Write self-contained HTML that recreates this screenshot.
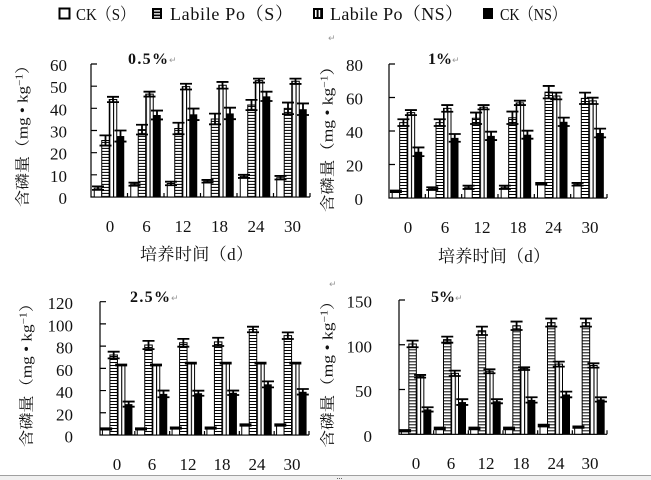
<!DOCTYPE html>
<html><head><meta charset="utf-8"><style>
html,body{margin:0;padding:0;width:651px;height:480px;overflow:hidden;background:#fff}
svg{display:block}
.sc *{vector-effect:non-scaling-stroke}
.w{fill:#fff;stroke:#000;stroke-width:1}
.s{stroke:#000;stroke-width:1}
.v{fill:url(#vs);stroke:#000;stroke-width:1}
.k{fill:#000}
.e{fill:none;stroke:#000;stroke-width:1.8}
.ax{fill:none;stroke:#000;stroke-width:1.2}
text{font-family:"Liberation Serif","Noto Serif CJK SC","Noto Sans CJK SC",serif;fill:#111}
.n{font-size:17px}
.r{font-family:"DejaVu Sans",sans-serif;font-size:9px;fill:#999}
</style></head><body>
<svg width="651" height="480" viewBox="0 0 651 480" xmlns="http://www.w3.org/2000/svg">
<defs>
<pattern id="vs" patternUnits="userSpaceOnUse" width="3.75" height="200"><rect width="3.75" height="200" fill="#fff"/><rect width="1.1" height="200" fill="#000"/></pattern>
<pattern id="h1" patternUnits="userSpaceOnUse" width="20" height="1.3534"><rect width="20" height="1.3534" fill="#fff"/><rect width="20" height="0.4511" fill="#000"/></pattern>
<pattern id="h2" patternUnits="userSpaceOnUse" width="20" height="1.791"><rect width="20" height="1.791" fill="#fff"/><rect width="20" height="0.597" fill="#000"/></pattern>
<pattern id="h3" patternUnits="userSpaceOnUse" width="20" height="2.7"><rect width="20" height="2.7" fill="#fff"/><rect width="20" height="0.9" fill="#000"/></pattern>
<pattern id="h4" patternUnits="userSpaceOnUse" width="20" height="3.351"><rect width="20" height="3.351" fill="#fff"/><rect width="20" height="1.117" fill="#000"/></pattern>
</defs>

<!-- Legend -->
<rect x="59.5" y="8.5" width="10" height="10" fill="#fff" stroke="#000" stroke-width="2"/>
<text x="76" y="20" font-size="17" textLength="59" lengthAdjust="spacingAndGlyphs">CK（S）</text>
<rect x="152" y="8" width="10" height="11" fill="#000"/>
<rect x="154" y="10.2" width="6" height="1.3" fill="#fff"/><rect x="154" y="13.2" width="6" height="1.3" fill="#fff"/><rect x="154" y="16.2" width="6" height="1.3" fill="#fff"/>
<text x="170" y="20" font-size="18" textLength="123">Labile Po（S）</text>
<rect x="313" y="8" width="10" height="11" fill="#000"/>
<rect x="315" y="10" width="1.6" height="7" fill="#fff"/><rect x="318.6" y="10" width="1.6" height="7" fill="#fff"/>
<text x="330" y="20" font-size="18" textLength="133">Labile Po（NS）</text>
<rect x="483" y="8" width="10" height="11" fill="#000"/>
<text x="500" y="20" font-size="17" textLength="66" lengthAdjust="spacingAndGlyphs">CK（NS）</text>
<text class="r" x="328" y="41">↵</text>

<!-- ===== Panel 1 (0.5%) ===== -->
<text x="128" y="64" font-size="16" font-weight="bold" textLength="40">0.5%</text><text class="r" x="169" y="63">↵</text>
<g class="n" text-anchor="end">
<text x="67" y="204">0</text><text x="67" y="181.8">10</text><text x="67" y="159.7">20</text><text x="67" y="137.5">30</text><text x="67" y="115.3">40</text><text x="67" y="93.2">50</text><text x="67" y="71">60</text>
</g>
<g class="n" text-anchor="middle">
<text x="110" y="232">0</text><text x="146.5" y="232">6</text><text x="183" y="232">12</text><text x="219.5" y="232">18</text><text x="256" y="232">24</text><text x="292.5" y="232">30</text>
</g>
<text x="140" y="260" font-size="17" textLength="113">培养时间（d）</text>
<text transform="translate(22,132) rotate(-90)" x="0" y="5.5" text-anchor="middle" font-size="15" textLength="150" lengthAdjust="spacingAndGlyphs">含磷量（mg • kg<tspan font-size="10" dy="-5">−1</tspan><tspan dy="5">）</tspan></text>
<g class="sc" transform="translate(91,197) scale(1,-2.2167)">
<path class="ax" d="M0 60V0H219M0 10h6M0 20h6M0 30h6M0 40h6M0 50h6M0 60h6M36.5 0v1.8M73 0v1.8M109.5 0v1.8M146 0v1.8M182.5 0v1.8M219 0v1.8"/>
<g transform="translate(18.25,0)"><rect class="w" x="-15" width="7.5" height="4"/><rect class="s" fill="url(#h1)" x="-7.5" width="7.5" height="25.5"/><rect class="v" width="7.5" height="44"/><rect class="k" x="7.5" width="7.5" height="27.5"/><path class="e" d="M-17.25 4.8h12m-6 0v-1.6m-6 0h12M-9.75 27.8h12m-6 0v-4.6m-6 0h12M-2.25 45.2h12m-6 0v-2.4m-6 0h12M5.25 30h12m-6 0v-5m-6 0h12"/></g>
<g transform="translate(54.75,0)"><rect class="w" x="-15" width="7.5" height="5.8"/><rect class="s" fill="url(#h1)" x="-7.5" width="7.5" height="30.4"/><rect class="v" width="7.5" height="46.4"/><rect class="k" x="7.5" width="7.5" height="37"/><path class="e" d="M-17.25 6.5h12m-6 0v-1.4m-6 0h12M-9.75 32.6h12m-6 0v-4.4m-6 0h12M-2.25 47.5h12m-6 0v-2.2m-6 0h12M5.25 39h12m-6 0v-4m-6 0h12"/></g>
<g transform="translate(91.25,0)"><rect class="w" x="-15" width="7.5" height="6.1"/><rect class="s" fill="url(#h1)" x="-7.5" width="7.5" height="30.9"/><rect class="v" width="7.5" height="49.8"/><rect class="k" x="7.5" width="7.5" height="37.3"/><path class="e" d="M-17.25 6.9h12m-6 0v-1.6m-6 0h12M-9.75 33.5h12m-6 0v-5.2m-6 0h12M-2.25 51.1h12m-6 0v-2.6m-6 0h12M5.25 39.9h12m-6 0v-5.2m-6 0h12"/></g>
<g transform="translate(127.75,0)"><rect class="w" x="-15" width="7.5" height="7.1"/><rect class="s" fill="url(#h1)" x="-7.5" width="7.5" height="35.2"/><rect class="v" width="7.5" height="50.4"/><rect class="k" x="7.5" width="7.5" height="37.7"/><path class="e" d="M-17.25 7.7h12m-6 0v-1.2m-6 0h12M-9.75 37.6h12m-6 0v-4.8m-6 0h12M-2.25 51.9h12m-6 0v-3m-6 0h12M5.25 40.3h12m-6 0v-5.2m-6 0h12"/></g>
<g transform="translate(164.25,0)"><rect class="w" x="-15" width="7.5" height="9.3"/><rect class="s" fill="url(#h1)" x="-7.5" width="7.5" height="41.5"/><rect class="v" width="7.5" height="52.5"/><rect class="k" x="7.5" width="7.5" height="45.4"/><path class="e" d="M-17.25 10h12m-6 0v-1.4m-6 0h12M-9.75 43.8h12m-6 0v-4.6m-6 0h12M-2.25 53.4h12m-6 0v-1.8m-6 0h12M5.25 47.5h12m-6 0v-4.2m-6 0h12"/></g>
<g transform="translate(200.75,0)"><rect class="w" x="-15" width="7.5" height="8.7"/><rect class="s" fill="url(#h1)" x="-7.5" width="7.5" height="40"/><rect class="v" width="7.5" height="52.2"/><rect class="k" x="7.5" width="7.5" height="39.6"/><path class="e" d="M-17.25 9.5h12m-6 0v-1.6m-6 0h12M-9.75 42.6h12m-6 0v-5.2m-6 0h12M-2.25 53.4h12m-6 0v-2.4m-6 0h12M5.25 42.2h12m-6 0v-5.2m-6 0h12"/></g>
</g>

<!-- ===== Panel 2 (1%) ===== -->
<text x="428" y="64" font-size="16" font-weight="bold" textLength="24">1%</text><text class="r" x="452" y="63">↵</text>
<g class="n" text-anchor="end">
<text x="363" y="205">0</text><text x="363" y="171.5">20</text><text x="363" y="138">40</text><text x="363" y="104.5">60</text><text x="363" y="71">80</text>
</g>
<g class="n" text-anchor="middle">
<text x="408" y="233">0</text><text x="445" y="233">6</text><text x="482" y="233">12</text><text x="518" y="233">18</text><text x="553.5" y="233">24</text><text x="590" y="233">30</text>
</g>
<text x="438" y="262" font-size="17" textLength="112">培养时间（d）</text>
<text transform="translate(327,135) rotate(-90)" x="0" y="5.5" text-anchor="middle" font-size="15" textLength="154" lengthAdjust="spacingAndGlyphs">含磷量（mg • kg<tspan font-size="10" dy="-5">−1</tspan><tspan dy="5">）</tspan></text>
<g class="sc" transform="translate(389,198) scale(1,-1.675)">
<path class="ax" d="M0 80V0H218M0 20h6M0 40h6M0 60h6M0 80h6M36.33 0v2.4M72.67 0v2.4M109 0v2.4M145.33 0v2.4M181.67 0v2.4M218 0v2.4"/>
<g transform="translate(18.17,0)"><rect class="w" x="-15" width="7.5" height="4"/><rect class="s" fill="url(#h2)" x="-7.5" width="7.5" height="45"/><rect class="v" width="7.5" height="51"/><rect class="k" x="7.5" width="7.5" height="27.6"/><path class="e" d="M-17.25 4.5h12m-6 0v-1m-6 0h12M-9.75 47h12m-6 0v-4m-6 0h12M-2.25 52.5h12m-6 0v-3m-6 0h12M5.25 30.2h12m-6 0v-5.2m-6 0h12"/></g>
<g transform="translate(54.5,0)"><rect class="w" x="-15" width="7.5" height="5.6"/><rect class="s" fill="url(#h2)" x="-7.5" width="7.5" height="45"/><rect class="v" width="7.5" height="53.5"/><rect class="k" x="7.5" width="7.5" height="35.9"/><path class="e" d="M-17.25 6.4h12m-6 0v-1.6m-6 0h12M-9.75 47h12m-6 0v-4m-6 0h12M-2.25 55.5h12m-6 0v-4m-6 0h12M5.25 38.2h12m-6 0v-4.6m-6 0h12"/></g>
<g transform="translate(90.83,0)"><rect class="w" x="-15" width="7.5" height="6.4"/><rect class="s" fill="url(#h2)" x="-7.5" width="7.5" height="47.6"/><rect class="v" width="7.5" height="54.2"/><rect class="k" x="7.5" width="7.5" height="37.1"/><path class="e" d="M-17.25 7.4h12m-6 0v-2m-6 0h12M-9.75 51h12m-6 0v-6.8m-6 0h12M-2.25 55.5h12m-6 0v-2.6m-6 0h12M5.25 39.6h12m-6 0v-5m-6 0h12"/></g>
<g transform="translate(127.17,0)"><rect class="w" x="-15" width="7.5" height="6.4"/><rect class="s" fill="url(#h2)" x="-7.5" width="7.5" height="47.9"/><rect class="v" width="7.5" height="56.8"/><rect class="k" x="7.5" width="7.5" height="37.8"/><path class="e" d="M-17.25 7.4h12m-6 0v-2m-6 0h12M-9.75 51.6h12m-6 0v-7.4m-6 0h12M-2.25 58.1h12m-6 0v-2.6m-6 0h12M5.25 40.2h12m-6 0v-4.8m-6 0h12"/></g>
<g transform="translate(163.5,0)"><rect class="w" x="-15" width="7.5" height="8.5"/><rect class="s" fill="url(#h2)" x="-7.5" width="7.5" height="63.2"/><rect class="v" width="7.5" height="60.9"/><rect class="k" x="7.5" width="7.5" height="45.5"/><path class="e" d="M-17.25 9h12m-6 0v-1m-6 0h12M-9.75 66.9h12m-6 0v-7.4m-6 0h12M-2.25 62.9h12m-6 0v-4m-6 0h12M5.25 48h12m-6 0v-5m-6 0h12"/></g>
<g transform="translate(199.83,0)"><rect class="w" x="-15" width="7.5" height="8.2"/><rect class="s" fill="url(#h2)" x="-7.5" width="7.5" height="59.5"/><rect class="v" width="7.5" height="58"/><rect class="k" x="7.5" width="7.5" height="38.8"/><path class="e" d="M-17.25 9h12m-6 0v-1.6m-6 0h12M-9.75 62.9h12m-6 0v-6.8m-6 0h12M-2.25 59.9h12m-6 0v-3.8m-6 0h12M5.25 41.4h12m-6 0v-5.2m-6 0h12"/></g>
</g>

<!-- ===== Panel 3 (2.5%) ===== -->
<text x="130" y="302" font-size="16" font-weight="bold" textLength="40">2.5%</text><text class="r" x="171" y="301">↵</text>
<g class="n" text-anchor="end">
<text x="73" y="442.5">0</text><text x="73" y="420.3">20</text><text x="73" y="398.1">40</text><text x="73" y="375.8">60</text><text x="73" y="353.6">80</text><text x="73" y="331.4">100</text><text x="73" y="309.2">120</text>
</g>
<g class="n" text-anchor="middle">
<text x="117" y="470">0</text><text x="152" y="470">6</text><text x="188" y="470">12</text><text x="222" y="470">18</text><text x="257" y="470">24</text><text x="292" y="470">30</text>
</g>
<text transform="translate(26,371) rotate(-90)" x="0" y="5.5" text-anchor="middle" font-size="15" textLength="152" lengthAdjust="spacingAndGlyphs">含磷量（mg • kg<tspan font-size="10" dy="-5">−1</tspan><tspan dy="5">）</tspan></text>
<g class="sc" transform="translate(100,435) scale(1,-1.111)">
<path class="ax" d="M0 120V0H209M0 20h6M0 40h6M0 60h6M0 80h6M0 100h6M0 120h6M34.83 0v3.6M69.67 0v3.6M104.5 0v3.6M139.33 0v3.6M174.17 0v3.6M209 0v3.6"/>
<g transform="translate(17.42,0)"><rect class="w" x="-15" width="7.5" height="5.5"/><rect class="s" fill="url(#h3)" x="-7.5" width="7.5" height="72"/><rect class="v" width="7.5" height="63"/><rect class="k" x="7.5" width="7.5" height="27.8"/><path class="e" d="M-17.25 6.1h12m-6 0v-1.2m-6 0h12M-9.75 75h12m-6 0v-6m-6 0h12M-2.25 63.4h12m-6 0v-0.8m-6 0h12M5.25 30.1h12m-6 0v-4.6m-6 0h12"/></g>
<g transform="translate(52.25,0)"><rect class="w" x="-15" width="7.5" height="5.5"/><rect class="s" fill="url(#h3)" x="-7.5" width="7.5" height="81"/><rect class="v" width="7.5" height="63"/><rect class="k" x="7.5" width="7.5" height="37"/><path class="e" d="M-17.25 6.1h12m-6 0v-1.2m-6 0h12M-9.75 84.7h12m-6 0v-7.4m-6 0h12M-2.25 63.4h12m-6 0v-0.8m-6 0h12M5.25 40h12m-6 0v-6m-6 0h12"/></g>
<g transform="translate(87.08,0)"><rect class="w" x="-15" width="7.5" height="6.2"/><rect class="s" fill="url(#h3)" x="-7.5" width="7.5" height="83"/><rect class="v" width="7.5" height="64.7"/><rect class="k" x="7.5" width="7.5" height="37.6"/><path class="e" d="M-17.25 6.8h12m-6 0v-1.2m-6 0h12M-9.75 86.5h12m-6 0v-7m-6 0h12M-2.25 65.1h12m-6 0v-0.8m-6 0h12M5.25 39.9h12m-6 0v-4.6m-6 0h12"/></g>
<g transform="translate(121.92,0)"><rect class="w" x="-15" width="7.5" height="6.2"/><rect class="s" fill="url(#h3)" x="-7.5" width="7.5" height="83.8"/><rect class="v" width="7.5" height="64.7"/><rect class="k" x="7.5" width="7.5" height="38"/><path class="e" d="M-17.25 6.8h12m-6 0v-1.2m-6 0h12M-9.75 87.5h12m-6 0v-7.4m-6 0h12M-2.25 65.1h12m-6 0v-0.8m-6 0h12M5.25 40h12m-6 0v-4m-6 0h12"/></g>
<g transform="translate(156.75,0)"><rect class="w" x="-15" width="7.5" height="9"/><rect class="s" fill="url(#h3)" x="-7.5" width="7.5" height="95"/><rect class="v" width="7.5" height="64.7"/><rect class="k" x="7.5" width="7.5" height="45.6"/><path class="e" d="M-17.25 9.6h12m-6 0v-1.2m-6 0h12M-9.75 97.5h12m-6 0v-5m-6 0h12M-2.25 65.1h12m-6 0v-0.8m-6 0h12M5.25 48.3h12m-6 0v-5.4m-6 0h12"/></g>
<g transform="translate(191.58,0)"><rect class="w" x="-15" width="7.5" height="9"/><rect class="s" fill="url(#h3)" x="-7.5" width="7.5" height="89.4"/><rect class="v" width="7.5" height="64.7"/><rect class="k" x="7.5" width="7.5" height="38.9"/><path class="e" d="M-17.25 9.6h12m-6 0v-1.2m-6 0h12M-9.75 92.4h12m-6 0v-6m-6 0h12M-2.25 65.1h12m-6 0v-0.8m-6 0h12M5.25 41.4h12m-6 0v-5m-6 0h12"/></g>
</g>

<!-- ===== Panel 4 (5%) ===== -->
<text x="431" y="302" font-size="16" font-weight="bold" textLength="24">5%</text><text class="r" x="455" y="301">↵</text>
<text class="r" x="329" y="287">↵</text>
<g class="n" text-anchor="end">
<text x="372" y="441.8">0</text><text x="372" y="397">50</text><text x="372" y="352.3">100</text><text x="372" y="307.5">150</text>
</g>
<g class="n" text-anchor="middle">
<text x="416" y="469">0</text><text x="451" y="469">6</text><text x="486" y="469">12</text><text x="521" y="469">18</text><text x="556" y="469">24</text><text x="590" y="469">30</text>
</g>
<text transform="translate(327,370) rotate(-90)" x="0" y="5.5" text-anchor="middle" font-size="15" textLength="155" lengthAdjust="spacingAndGlyphs">含磷量（mg • kg<tspan font-size="10" dy="-5">−1</tspan><tspan dy="5">）</tspan></text>
<g class="sc" transform="translate(399,434.3) scale(1,-0.8953)">
<path class="ax" d="M0 150V0H208M0 50h6M0 100h6M0 150h6M34.67 0v4.5M69.33 0v4.5M104 0v4.5M138.67 0v4.5M173.33 0v4.5M208 0v4.5"/>
<g transform="translate(17.33,0)"><rect class="w" x="-15" width="7.5" height="4"/><rect class="s" fill="url(#h4)" x="-7.5" width="7.5" height="100.9"/><rect class="v" width="7.5" height="64.8"/><rect class="k" x="7.5" width="7.5" height="27.8"/><path class="e" d="M-17.25 4.8h12m-6 0v-1.6m-6 0h12M-9.75 104.6h12m-6 0v-7.4m-6 0h12M-2.25 66.3h12m-6 0v-3m-6 0h12M5.25 30.2h12m-6 0v-4.8m-6 0h12"/></g>
<g transform="translate(52,0)"><rect class="w" x="-15" width="7.5" height="6.5"/><rect class="s" fill="url(#h4)" x="-7.5" width="7.5" height="105.7"/><rect class="v" width="7.5" height="68.1"/><rect class="k" x="7.5" width="7.5" height="36"/><path class="e" d="M-17.25 7.5h12m-6 0v-2m-6 0h12M-9.75 109.1h12m-6 0v-6.8m-6 0h12M-2.25 71.1h12m-6 0v-6m-6 0h12M5.25 39.2h12m-6 0v-6.4m-6 0h12"/></g>
<g transform="translate(86.67,0)"><rect class="w" x="-15" width="7.5" height="6.5"/><rect class="s" fill="url(#h4)" x="-7.5" width="7.5" height="115.6"/><rect class="v" width="7.5" height="70.4"/><rect class="k" x="7.5" width="7.5" height="36.9"/><path class="e" d="M-17.25 7.5h12m-6 0v-2m-6 0h12M-9.75 120.3h12m-6 0v-9.4m-6 0h12M-2.25 72.6h12m-6 0v-4.4m-6 0h12M5.25 39.2h12m-6 0v-4.6m-6 0h12"/></g>
<g transform="translate(121.33,0)"><rect class="w" x="-15" width="7.5" height="6.5"/><rect class="s" fill="url(#h4)" x="-7.5" width="7.5" height="121.2"/><rect class="v" width="7.5" height="73.3"/><rect class="k" x="7.5" width="7.5" height="38.4"/><path class="e" d="M-17.25 7.5h12m-6 0v-2m-6 0h12M-9.75 125.9h12m-6 0v-9.4m-6 0h12M-2.25 74.8h12m-6 0v-3m-6 0h12M5.25 41.4h12m-6 0v-6m-6 0h12"/></g>
<g transform="translate(156,0)"><rect class="w" x="-15" width="7.5" height="9.8"/><rect class="s" fill="url(#h4)" x="-7.5" width="7.5" height="124.8"/><rect class="v" width="7.5" height="78.4"/><rect class="k" x="7.5" width="7.5" height="44.5"/><path class="e" d="M-17.25 10.8h12m-6 0v-2m-6 0h12M-9.75 129.3h12m-6 0v-9m-6 0h12M-2.25 81.2h12m-6 0v-5.6m-6 0h12M5.25 47.7h12m-6 0v-6.4m-6 0h12"/></g>
<g transform="translate(190.67,0)"><rect class="w" x="-15" width="7.5" height="8"/><rect class="s" fill="url(#h4)" x="-7.5" width="7.5" height="124.8"/><rect class="v" width="7.5" height="76.9"/><rect class="k" x="7.5" width="7.5" height="38.9"/><path class="e" d="M-17.25 8.8h12m-6 0v-1.6m-6 0h12M-9.75 129.3h12m-6 0v-9m-6 0h12M-2.25 79.3h12m-6 0v-4.8m-6 0h12M5.25 41.3h12m-6 0v-4.8m-6 0h12"/></g>
</g>

<!-- bottom strip -->
<rect x="0" y="475" width="651" height="5" fill="#f0f0f0"/>
<line x1="0" y1="475.5" x2="651" y2="475.5" stroke="#a0a0a0" stroke-width="1"/>
<rect x="337" y="478" width="1" height="1" fill="#666"/><rect x="339" y="478" width="1" height="1" fill="#666"/><rect x="341" y="478" width="1" height="1" fill="#666"/>
</svg>
</body></html>
